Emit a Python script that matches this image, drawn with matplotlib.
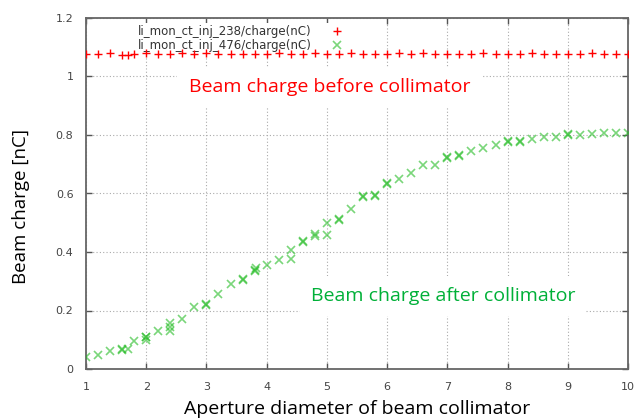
import numpy as np
import matplotlib
matplotlib.use('Agg')
import matplotlib.pyplot as plt

# aperture diameter vs. charge, monitor 238 (before collimator)
x_before = [1.0, 1.2, 1.4, 1.6, 1.7, 1.8, 2.0, 2.2, 2.4, 2.6, 2.8, 3.0, 3.2, 3.4, 3.6,
            3.8, 4.0, 4.2, 4.4, 4.6, 4.8, 5.0, 5.2, 5.4, 5.6, 5.8, 6.0, 6.2, 6.4, 6.6,
            6.8, 7.0, 7.2, 7.4, 7.6, 7.8, 8.0, 8.2, 8.4, 8.6, 8.8, 9.0, 9.2, 9.4, 9.6,
            9.8, 10.0]
q_before = [1.077, 1.078, 1.079, 1.074, 1.075, 1.076, 1.079, 1.077, 1.076, 1.080, 1.078,
            1.079, 1.076, 1.077, 1.078, 1.077, 1.078, 1.081, 1.077, 1.078, 1.079, 1.078,
            1.077, 1.079, 1.078, 1.076, 1.077, 1.079, 1.078, 1.081, 1.077, 1.076, 1.077,
            1.078, 1.079, 1.078, 1.077, 1.076, 1.079, 1.078, 1.076, 1.077, 1.078, 1.079,
            1.077, 1.078, 1.076]

# monitor 476 (after collimator)
x_after = [1.0, 1.2, 1.4, 1.6, 1.6, 1.7, 1.8, 2.0, 2.0, 2.0, 2.2, 2.4, 2.4, 2.4, 2.6,
           2.8, 3.0, 3.0, 3.2, 3.4, 3.6, 3.6, 3.8, 3.8, 3.82, 4.0, 4.2, 4.4, 4.4, 4.6,
           4.6, 4.8, 4.8, 5.0, 5.0, 5.2, 5.2, 5.4, 5.6, 5.6, 5.8, 5.8, 6.0, 6.0, 6.2,
           6.4, 6.6, 6.8, 7.0, 7.0, 7.2, 7.2, 7.4, 7.6, 7.8, 8.0, 8.0, 8.2, 8.2, 8.4,
           8.6, 8.8, 9.0, 9.0, 9.2, 9.4, 9.6, 9.8, 10.0]
q_after = [0.040, 0.048, 0.062, 0.070, 0.066, 0.068, 0.095, 0.108, 0.098, 0.111, 0.131,
           0.158, 0.145, 0.130, 0.172, 0.213, 0.218, 0.222, 0.256, 0.290, 0.304, 0.306,
           0.335, 0.340, 0.344, 0.355, 0.373, 0.376, 0.407, 0.433, 0.437, 0.456, 0.460,
           0.458, 0.500, 0.508, 0.512, 0.547, 0.589, 0.592, 0.591, 0.595, 0.632, 0.635,
           0.648, 0.669, 0.697, 0.699, 0.723, 0.726, 0.729, 0.733, 0.745, 0.757, 0.766,
           0.775, 0.778, 0.775, 0.780, 0.787, 0.792, 0.794, 0.800, 0.802, 0.800, 0.803,
           0.807, 0.808, 0.807]

label_before = 'li_mon_ct_inj_238/charge(nC)'
label_after = 'li_mon_ct_inj_476/charge(nC)'

fig = plt.figure(figsize=(6.35, 4.19), dpi=100)
ax = fig.add_axes([86/635, 1-369/419, 542/635, 351/419])

ax.plot(x_before, q_before, '+', color='#ff0000', ms=6, mew=1.0, label=label_before, zorder=4)
ax.plot(x_after, q_after, 'x', color='#22bb22', alpha=0.6, ms=5.5, mew=1.2, label=label_after, zorder=4)

ax.set_xlim(1, 10)
ax.set_ylim(0, 1.2)
ax.set_xticks(range(1, 11))
ax.set_yticks([0, 0.2, 0.4, 0.6, 0.8, 1.0, 1.2])
ax.set_yticklabels(['0', '0.2', '0.4', '0.6', '0.8', '1', '1.2'])
ax.grid(True, color='#aaaaaa', linestyle=(0, (1, 2)), linewidth=0.8, zorder=0)
ax.set_axisbelow(True)
ax.tick_params(direction='in', top=True, right=True, length=4, width=1,
               color='#555555', labelcolor='#444444', labelsize=8, pad=9)
for s in ax.spines.values():
    s.set_color('#666666')
    s.set_linewidth(1.3)

ax.set_xlabel('Aperture diameter of beam collimator', fontsize=14, family='Open Sans', labelpad=6)
ax.set_ylabel('Beam charge [nC]', fontsize=13.5, family='Open Sans')
ax.yaxis.set_label_coords(-0.103, 0.463)

ax.text(5.04, 0.965, 'Beam charge before collimator', color='#ff0000', fontsize=14,
        family='Open Sans', ha='center', va='center', zorder=3,
        bbox=dict(facecolor='white', edgecolor='none', pad=8))
ax.text(6.93, 0.25, 'Beam charge after collimator', color='#00b038', fontsize=14,
        family='Open Sans', ha='center', va='center', zorder=3,
        bbox=dict(facecolor='white', edgecolor='none', pad=8))

leg = ax.legend(loc='upper left', bbox_to_anchor=(0.092, 0.985), markerfirst=False,
                frameon=True, framealpha=1, edgecolor='none', fontsize=8.5,
                handlelength=1.0, handletextpad=1.7, labelspacing=0.1,
                borderpad=0.15, borderaxespad=0)
leg.set_zorder(3.5)
for t in leg.get_texts():
    t.set_color('#333333')

fig.savefig('out.png', dpi=100)
